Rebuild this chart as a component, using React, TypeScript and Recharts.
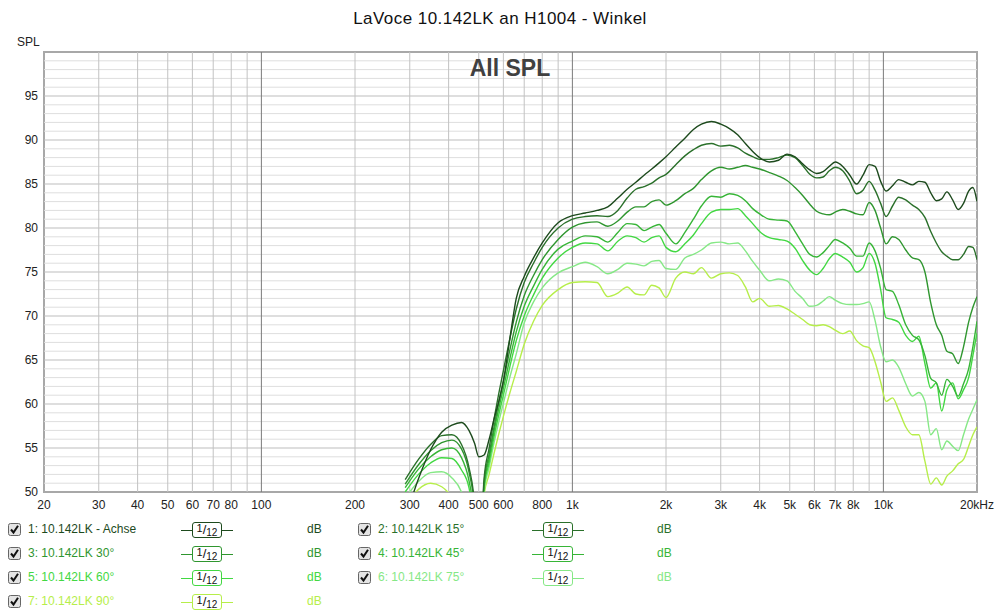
import React from "react";
import {
  LineChart,
  Line,
  XAxis,
  YAxis,
  ReferenceLine,
  ReferenceArea,
} from "recharts";

// frequency grid (Hz) shared by every curve
const freqs = [
  290, 320, 350, 380, 410, 440, 465, 485, 500, 520, 540, 560, 580, 600, 630,
  660, 700, 750, 800, 900, 1000, 1100, 1200, 1300, 1400, 1500, 1600, 1700,
  1800, 1900, 2000, 2150, 2300, 2450, 2600, 2800, 3000, 3200, 3400, 3600, 3800,
  4000, 4300, 4600, 4900, 5200, 5500, 5800, 6100, 6400, 6700, 7000, 7400, 7800,
  8200, 8600, 9000, 9400, 9800, 10200, 10700, 11200, 11800, 12400, 13000,
  13600, 14200, 14800, 15400, 16000, 16700, 17400, 18100, 18800, 19400, 20000,
];

// SPL in dB
const achse = [
  47, 51.5, 54.8, 56.8, 57.6, 57.9, 57.0, 55.5, 54.0, 54.2, 56.0, 58.3, 60.3,
  62.6, 67.5, 72.0, 74.5, 76.6, 78.3, 80.6, 81.4,
  81.7, 82.0, 82.4, 83.4, 84.4, 85.2, 86.0, 86.7, 87.4, 88.1,
  89.2, 90.2, 91.2, 91.8, 92.1, 91.8, 91.3, 90.6, 89.6, 88.7, 88.0,
  87.5, 87.7, 88.4, 88.1, 87.3, 86.6, 86.2, 86.4, 87.0, 87.5,
  87.0, 86.0, 85.0, 86.0, 87.2, 87.0, 85.3, 84.2,
  84.8, 85.5, 85.2, 84.9, 85.3, 85.2, 84.0, 83.1, 83.3, 84.1,
  83.2, 82.1, 82.8, 84.2, 84.6, 83.0,
];
const w15 = [
  51.4, 53.7, 55.4, 56.4, 56.5, 55.4, 52.8, 48.5, 40, 51.5, 55.0, 58.3, 61.2,
  63.8, 67.5, 70.8, 73.8, 76.0, 77.8, 80.0, 81.0,
  81.3, 81.4, 81.3, 82.0, 83.4, 84.4, 84.7, 85.1, 85.7, 86.1,
  87.2, 88.2, 88.9, 89.4, 89.6, 89.3, 89.4, 89.1, 88.5, 88.1, 87.8,
  87.8, 88.0, 88.3, 88.0, 87.1, 86.1, 85.7, 85.8, 86.5, 86.9,
  86.5, 85.3, 83.9, 84.3, 85.3, 84.3, 82.8, 81.3,
  82.5, 83.5, 83.2, 82.6, 82.1, 81.2, 79.6, 78.3, 77.3, 76.8,
  76.4, 76.4, 77.0, 77.9, 77.8, 76.4,
];
const w30 = [
  50.9, 53.1, 54.7, 55.6, 55.9, 54.9, 52.3, 48, 40, 51.0, 54.3, 57.4, 60.2,
  62.6, 66.2, 69.3, 72.3, 74.6, 76.4, 78.7, 80.1,
  80.6, 80.7, 80.2, 80.8, 81.8, 82.4, 82.4, 83.0, 83.2, 82.6,
  83.1, 83.9, 84.5, 85.5, 86.5, 86.9, 86.7, 86.9, 87.1, 86.9, 86.7,
  86.3, 85.9, 85.4, 84.6, 83.7, 82.7, 81.9, 81.6, 81.5, 81.8,
  82.1, 81.9, 81.6, 81.5, 82.9, 82.0, 80.0, 78.2,
  79.0, 78.7, 77.5, 76.6, 76.4, 75.0, 71.5, 69.0, 67.8, 66.0,
  65.7, 64.6, 66.5, 69.3, 71.0, 72.2,
];
const w45 = [
  50.5, 52.6, 54.0, 54.8, 55.0, 53.9, 51.3, 47, 40, 50.7, 53.8, 56.9, 59.5,
  61.8, 65.2, 68.2, 71.1, 73.4, 75.3, 77.6, 78.5,
  79.1, 79.0, 78.4, 79.5, 80.5, 80.4, 79.7, 80.1, 80.4, 79.4,
  78.2, 79.5, 81.0, 82.5, 83.6, 83.5, 83.9, 83.7, 83.1, 82.2, 81.6,
  81.0, 80.9, 80.8, 79.6, 78.2, 77.0, 76.7, 77.2, 78.0, 78.7,
  78.3, 77.7, 76.8, 76.8, 78.3, 77.4, 75.4, 73.0,
  72.8, 71.3, 69.0, 67.8, 67.3, 65.5, 62.9, 62.4, 61.0, 62.8,
  62.0, 60.9, 62.3, 64.0, 66.5, 69.4,
];
const w60 = [
  50.0, 52.0, 53.3, 53.9, 53.8, 52.5, 50.5, 46, 40, 50.4, 53.3, 56.3, 58.8,
  61.0, 64.3, 67.2, 70.0, 72.4, 74.3, 76.6, 77.8,
  78.3, 78.2, 77.4, 78.5, 79.1, 78.9, 78.4, 78.9, 79.1, 77.8,
  77.3, 78.2, 79.2, 80.5, 81.8, 82.1, 82.1, 82.2, 81.4, 80.5, 79.6,
  78.9, 78.7, 78.5, 77.7, 76.3, 75.2, 74.7, 75.4, 76.5, 77.1,
  76.7, 76.1, 75.0, 75.5, 77.1, 76.0, 73.0, 69.8,
  69.6, 69.3, 67.8, 67.1, 67.7, 64.6, 61.8, 62.4, 59.2, 61.6,
  62.4, 60.6, 61.6, 63.0, 65.5, 68.1,
];
const w75 = [
  49.3, 51.2, 52.2, 52.3, 51.6, 50.0, 47, 43, 38, 50.0, 52.8, 55.6, 58.0,
  60.1, 63.1, 65.7, 69.2, 71.6, 73.2, 74.9, 75.6,
  76.1, 75.6, 74.8, 75.3, 76.0, 75.9, 75.7, 76.2, 76.3, 75.4,
  75.3, 76.6, 77.0, 77.5, 78.3, 78.4, 78.2, 78.3, 77.4, 76.2, 75.2,
  74.0, 74.2, 74.0, 72.8, 72.0, 71.1, 71.2, 71.7, 72.2, 71.8,
  71.4, 71.3, 71.3, 71.4, 71.6, 69.5, 66.5, 64.8,
  65.0, 64.2, 62.3, 60.9, 61.3, 60.3, 56.5, 57.2, 54.8, 55.8,
  55.2, 54.7, 56.5, 58.3, 59.4, 60.5,
];
const w90 = [
  48.3, 50.3, 51.0, 50.6, 49.3, 46.5, 43, 40, 38, 49.6, 52.0, 54.4, 56.6,
  58.6, 61.3, 63.7, 66.8, 69.4, 71.2, 73.0, 73.8,
  73.9, 73.8, 72.2, 72.6, 73.3, 72.5, 72.4, 73.5, 73.2, 72.1,
  74.3, 75.0, 74.8, 75.5, 74.3, 74.8, 74.9, 74.6, 73.3, 71.6, 72.0,
  71.1, 71.2, 70.8, 70.2, 69.6, 69.0, 68.9, 69.0, 68.8, 68.4,
  68.0, 68.3, 67.2, 66.6, 66.4, 64.8, 62.5, 60.3,
  60.7, 59.3, 57.4, 56.5, 56.5, 53.5, 50.9, 51.6, 50.8, 51.8,
  52.4, 53.2, 53.7, 55.2, 56.5, 57.4,
];

const xTicks = [
  20, 30, 40, 50, 60, 70, 80, 100, 200, 300, 400, 500, 600, 800, 1000, 2000,
  3000, 4000, 5000, 6000, 7000, 8000, 10000, 20000,
];
const yTicks = [50, 55, 60, 65, 70, 75, 80, 85, 90, 95];
const gridFreqs = [
  30, 40, 50, 60, 70, 80, 90, 100, 200, 300, 400, 500, 600, 700, 800, 900,
  1000, 2000, 3000, 4000, 5000, 6000, 7000, 8000, 9000, 10000,
];
const gridDb = Array.from({ length: 49 }, (_, i) => 51 + i);

type Series = { key: string; name: string; color: string; values: number[] };

const series: Series[] = [
  { key: "s1", name: "1: 10.142LK - Achse", color: "#1d4a1d", values: achse },
  { key: "s2", name: "2: 10.142LK 15°", color: "#2a702a", values: w15 },
  { key: "s3", name: "3: 10.142LK 30°", color: "#2f962f", values: w30 },
  { key: "s4", name: "4: 10.142LK 45°", color: "#37b537", values: w45 },
  { key: "s5", name: "5: 10.142LK 60°", color: "#42d842", values: w60 },
  { key: "s6", name: "6: 10.142LK 75°", color: "#86e886", values: w75 },
  { key: "s7", name: "7: 10.142LK 90°", color: "#b6ee4a", values: w90 },
];

const data = freqs.map((f, i) => {
  const row: Record<string, number> = { f };
  series.forEach((s) => (row[s.key] = s.values[i]));
  return row;
});

const fmtFreq = (f: number) =>
  f === 20000 ? "20kHz" : f >= 1000 ? `${f / 1000}k` : `${f}`;

const font = '"Liberation Sans", Arial, sans-serif';

const CheckBox = () => (
  <svg width={13} height={13} style={{ display: "block" }}>
    <rect x={0.5} y={0.5} width={12} height={12} rx={2} fill="#e4e4e4" stroke="#666" />
    <path d="M3 6.5 L5.5 9.5 L10 2.8" stroke="#111" strokeWidth={2} fill="none" />
  </svg>
);

const Smoothing = ({ color }: { color: string }) => (
  <div style={{ display: "flex", alignItems: "center" }}>
    <div style={{ width: 11, height: 1, background: color }} />
    <div
      style={{
        width: 28,
        height: 14,
        border: `1px solid ${color}`,
        borderRadius: 3,
        color: "#111",
        fontSize: 11,
        lineHeight: "14px",
        textAlign: "center",
        position: "relative",
      }}
    >
      <span style={{ position: "relative", top: -2 }}>1</span>
      <span style={{ fontSize: 13 }}>/</span>
      <span style={{ position: "relative", top: 2, fontSize: 10 }}>12</span>
    </div>
    <div style={{ width: 11, height: 1, background: color }} />
  </div>
);

const LegendItem = ({ s, x, y, boxX, dbX }: { s: Series; x: number; y: number; boxX: number; dbX: number }) => (
  <>
    <div style={{ position: "absolute", left: x, top: y - 7 }}>
      <CheckBox />
    </div>
    <div style={{ position: "absolute", left: x + 20, top: y - 8, fontSize: 12, color: s.color }}>
      {s.name}
    </div>
    <div style={{ position: "absolute", left: boxX, top: y - 8 }}>
      <Smoothing color={s.color} />
    </div>
    <div style={{ position: "absolute", left: dbX, top: y - 8, fontSize: 12, color: s.color }}>
      dB
    </div>
  </>
);

const legendRows = [530, 554, 578, 602];

export default function App() {
  return (
    <div
      style={{
        position: "absolute",
        left: 0,
        top: 0,
        width: 1000,
        height: 616,
        background: "#fff",
        fontFamily: font,
      }}
    >
      <div
        style={{
          position: "absolute",
          left: 0,
          width: 1000,
          top: 9,
          textAlign: "center",
          fontSize: 17,
          letterSpacing: 0.45,
          color: "#111",
        }}
      >
        LaVoce 10.142LK an H1004 - Winkel
      </div>
      <div style={{ position: "absolute", left: 17, top: 35, fontSize: 12, color: "#222" }}>SPL</div>

      <LineChart
        width={1000}
        height={520}
        data={data}
        margin={{ top: 52, right: 23, bottom: 0, left: 0 }}
        style={{ position: "absolute", left: 0, top: 0 }}
      >
        <XAxis
          dataKey="f"
          type="number"
          scale="log"
          domain={[20, 20000]}
          ticks={xTicks}
          tickFormatter={fmtFreq}
          interval={0}
          allowDataOverflow
          axisLine={false}
          tickLine={false}
          height={28}
          tick={{ fontSize: 12, fill: "#222", fontFamily: font }}
        />
        <YAxis
          type="number"
          domain={[50, 100]}
          ticks={yTicks}
          allowDataOverflow
          axisLine={false}
          tickLine={false}
          tickSize={4}
          width={44}
          tick={{ fontSize: 12, fill: "#222", fontFamily: font }}
        />
        {gridDb.map((d) => (
          <ReferenceLine
            key={`h${d}`}
            y={d}
            stroke={d % 5 === 0 ? "#bdbdbd" : "#dedede"}
            strokeWidth={1}
          />
        ))}
        {gridFreqs.map((f) => (
          <ReferenceLine
            key={`v${f}`}
            x={f}
            stroke={f === 100 || f === 1000 || f === 10000 ? "#7a7a7a" : "#c2c2c2"}
            strokeWidth={1}
          />
        ))}
        <ReferenceArea
          x1={20}
          x2={20000}
          y1={50}
          y2={100}
          fill="none"
          stroke="#a8a8a8"
          strokeWidth={2}
        />
        {series
          .slice()
          .reverse()
          .map((s) => (
            <Line
              key={s.key}
              dataKey={s.key}
              type="monotone"
              stroke={s.color}
              strokeWidth={1.4}
              dot={false}
              activeDot={false}
              isAnimationActive={false}
            />
          ))}
      </LineChart>

      <div
        style={{
          position: "absolute",
          left: 0,
          width: 1020,
          top: 55,
          textAlign: "center",
          fontSize: 23,
          fontWeight: "bold",
          color: "#404040",
        }}
      >
        All SPL
      </div>

      {[series[0], series[2], series[4], series[6]].map((s, i) => (
        <LegendItem key={s.key} s={s} x={8} y={legendRows[i]} boxX={181} dbX={307} />
      ))}
      {[series[1], series[3], series[5]].map((s, i) => (
        <LegendItem key={s.key} s={s} x={358} y={legendRows[i]} boxX={532} dbX={657} />
      ))}
    </div>
  );
}
